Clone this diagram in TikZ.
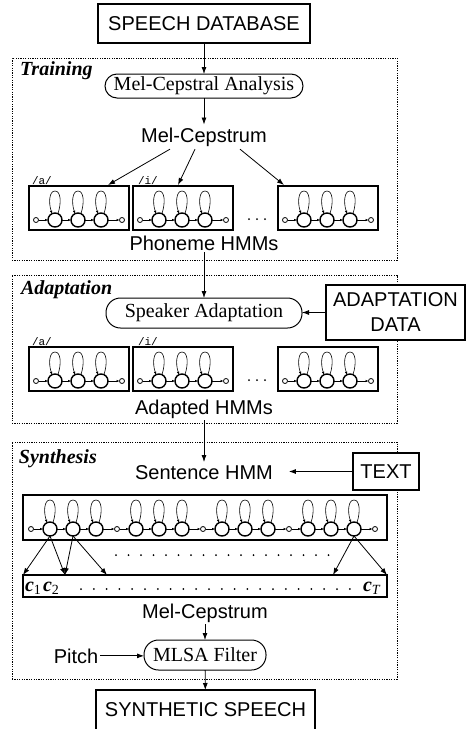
\documentclass[tikz,border=0pt]{standalone}
\usepackage{fontspec}
\setmainfont{Liberation Serif}
\setsansfont{Liberation Sans}
\setmonofont{Liberation Mono}
\usetikzlibrary{arrows.meta}
\begin{document}
\begin{tikzpicture}[x=1pt,y=-1pt,
  every node/.style={inner sep=0pt,outer sep=0pt},
  big/.style={font=\fontsize{20}{25}\selectfont\sffamily},
  serif/.style={font=\fontsize{20}{24}\selectfont\rmfamily},
  sect/.style={font=\fontsize{20}{24}\selectfont\rmfamily\bfseries\itshape, anchor=base west},
  sectbox/.style={draw, dash pattern=on 1.2pt off 1.2pt, line width=0.9pt, anchor=north west},
  sqbox/.style={draw, line width=1.1pt, fill=white, big},
  pill/.style={draw, line width=1pt, serif},
  arr/.style={line width=0.8pt, -{Latex[length=7pt,width=5pt]}},
  sarr/.style={line width=0.6pt, -{Latex[length=3pt,width=2.6pt]}},
  bigst/.style={circle, draw, line width=1.4pt, minimum size=14pt},
  smst/.style={circle, draw, line width=0.8pt, minimum size=5pt},
  hmmframe/.style={draw, line width=1.1pt, minimum width=100pt, minimum height=44pt},
  lbl/.style={font=\fontsize{11}{11}\selectfont\ttfamily, anchor=south west},
  dotmark/.style={fill=black},
  hmm/.pic={
    \node[hmmframe] (-box) at (50,22) {};
    \node[smst] (-s0) at (7,34) {};
    \node[bigst] (-b1) at (26,34) {};
    \node[bigst] (-b2) at (49,34) {};
    \node[bigst] (-b3) at (72,34) {};
    \node[smst] (-s1) at (93,34) {};
    \draw[sarr] (-s0) -- (-b1);
    \draw[sarr] (-b1) -- (-b2);
    \draw[sarr] (-b2) -- (-b3);
    \draw[sarr] (-b3) -- (-s1);
    \foreach \i/\x in {1/26,2/49,3/72}
      \draw[sarr] (-b\i.65) .. controls (\x+6.5,17) and (\x+6,5) .. (\x,5) .. controls (\x-6,5) and (\x-6.5,17) .. (-b\i.115);
  }
]
\useasboundingbox (0,0) rectangle (468,729);
\fill[white] (0,0) rectangle (468,729);

% sections
\node[sectbox, minimum width=385, minimum height=202] (trainbox) at (12,58) {};
\node[sectbox, minimum width=385, minimum height=148] (adaptbox) at (12,275) {};
\node[sectbox, minimum width=385, minimum height=237] (synthbox) at (12,442) {};
\node[sect] (trainlbl) at (20,75) {Training};
\node[sect] (adaptlbl) at (21,294) {Adaptation};
\node[sect] (synthlbl) at (19,463) {Synthesis};

% training
\node[sqbox, minimum width=212, minimum height=39] (sdb) at (204,23.5) {SPEECH DATABASE};
\node[pill, minimum width=198, minimum height=24, rounded corners=12pt] (mca) at (204,86) {Mel-Cepstral Analysis};
\node[big, anchor=base, inner ysep=3pt] (mc1) at (204,142) {Mel-Cepstrum};
\pic (T1) at (29,186) {hmm};
\pic (T2) at (133,186) {hmm};
\pic (T3) at (278,186) {hmm};
\node[lbl] (la1) at ([xshift=3pt,yshift=1pt]T1-box.north west) {/a/};
\node[lbl] (li1) at ([xshift=5pt,yshift=1pt]T2-box.north west) {/i/};
\foreach \i in {0,1,2} \fill[dotmark] (249+8*\i,219) circle (1pt);
\node[big, anchor=base, inner ysep=2pt] (phm) at (204,250) {Phoneme HMMs};
\draw[arr] (sdb) -- (mca);
\draw[arr] (mca) -- (mc1);
\draw[arr] ([xshift=-34pt]mc1.south) -- ([xshift=-21pt,yshift=1pt]T1-box.north east);
\draw[arr] ([xshift=-9pt]mc1.south) -- ([xshift=45pt,yshift=1pt]T2-box.north west);
\draw[arr] ([xshift=36pt]mc1.south) -- ([xshift=6pt,yshift=1pt]T3-box.north west);

% adaptation
\node[pill, minimum width=196, minimum height=30, rounded corners=14.5pt] (spk) at (204,313) {Speaker Adaptation};
\node[sqbox, minimum width=139, minimum height=55, align=center] (adata) at (395.5,312.5) {ADAPTATION\\DATA};
\draw[arr] (phm) -- (spk);
\draw[arr] (adata.west) -- (adata.west -| spk.east);
\pic (A1) at (29,347) {hmm};
\pic (A2) at (133,347) {hmm};
\pic (A3) at (278,347) {hmm};
\node[lbl] (la2) at ([xshift=3pt,yshift=1pt]A1-box.north west) {/a/};
\node[lbl] (li2) at ([xshift=5pt,yshift=1pt]A2-box.north west) {/i/};
\foreach \i in {0,1,2} \fill[dotmark] (249+8*\i,380) circle (1pt);
\node[big, anchor=base, inner ysep=2pt] (ahm) at (204,414) {Adapted HMMs};

% synthesis
\node[big, anchor=base, inner xsep=16pt, inner ysep=3pt] (shmm) at (204,479) {Sentence HMM};
\node[sqbox, minimum width=66, minimum height=37] (textb) at (386,471.5) {TEXT};
\draw[arr] (ahm) -- (shmm);
\draw[arr] (textb.west) -- (textb.west -| shmm.east);

\node[draw, line width=1.1pt, minimum width=364, minimum height=45, anchor=north west] (long) at (23,495) {};
\foreach \g in {0,1,2,3}{
  \pgfmathsetmacro\ox{31+86*\g}
  \node[smst] (L-s\g) at (\ox,529) {};
  \foreach \k/\d in {1/19,2/42,3/65}{
    \node[bigst] (L-b\g\k) at (\ox+\d,529) {};
    \draw[sarr] (L-b\g\k.65) .. controls (\ox+\d+6.5,512) and (\ox+\d+6,500) .. (\ox+\d,500) .. controls (\ox+\d-6,500) and (\ox+\d-6.5,512) .. (L-b\g\k.115);
  }
}
\node[smst] (L-s4) at (375,529) {};
\foreach \g in {0,1,2,3}{
  \pgfmathtruncatemacro\gn{\g+1}
  \draw[sarr] (L-s\g) -- (L-b\g1);
  \draw[sarr] (L-b\g1) -- (L-b\g2);
  \draw[sarr] (L-b\g2) -- (L-b\g3);
  \draw[sarr] (L-b\g3) -- (L-s\gn);
}
\foreach \i in {0,...,17} \fill[dotmark] (116+12.5*\i,555) circle (1pt);

\node[draw, line width=1.1pt, minimum width=364, minimum height=22, anchor=north west] (cbox) at (23,575) {};
\foreach \i in {0,...,21} \fill[dotmark] (81+12.8*\i,589) circle (1pt);
\node[serif, anchor=base west] (c1) at (25,591) {\textbf{\textit{c}}\textsubscript{1}};
\node[serif, anchor=base west] (c2) at (43,591) {\textbf{\textit{c}}\textsubscript{2}};
\node[serif, anchor=base west] (cT) at (363,591) {\textbf{\textit{c}}\textsubscript{\textit{T}}};

\draw[arr] (L-b01.south) -- (cbox.north west);
\draw[arr] (L-b01.south) -- ([xshift=42pt]cbox.north west);
\draw[arr] (L-b02.south) -- ([xshift=42pt]cbox.north west);
\draw[arr] (L-b02.south) -- ([xshift=84pt]cbox.north west);
\draw[arr] (L-b33.south) -- ([xshift=-54pt]cbox.north east);
\draw[arr] (L-b33.south) -- (cbox.north east);

\node[big, anchor=base, inner ysep=2pt] (mc2) at (205,618) {Mel-Cepstrum};
\node[pill, minimum width=122, minimum height=30, rounded corners=14.5pt] (mlsa) at (205,655) {MLSA Filter};
\node[big, anchor=base, inner xsep=2pt] (pitch) at (76,663) {Pitch};
\draw[arr] (mc2) -- (mlsa);
\draw[arr] (pitch.east) -- (pitch.east -| mlsa.west);

\node[big, minimum width=219, minimum height=39, anchor=north] (synsp) at (205.5,690) {SYNTHETIC SPEECH};
\draw[line width=1.1pt] (synsp.south west) -- (synsp.north west) -- (synsp.north east) -- (synsp.south east);
\draw[arr] (mlsa) -- (synsp);
\end{tikzpicture}
\end{document}
